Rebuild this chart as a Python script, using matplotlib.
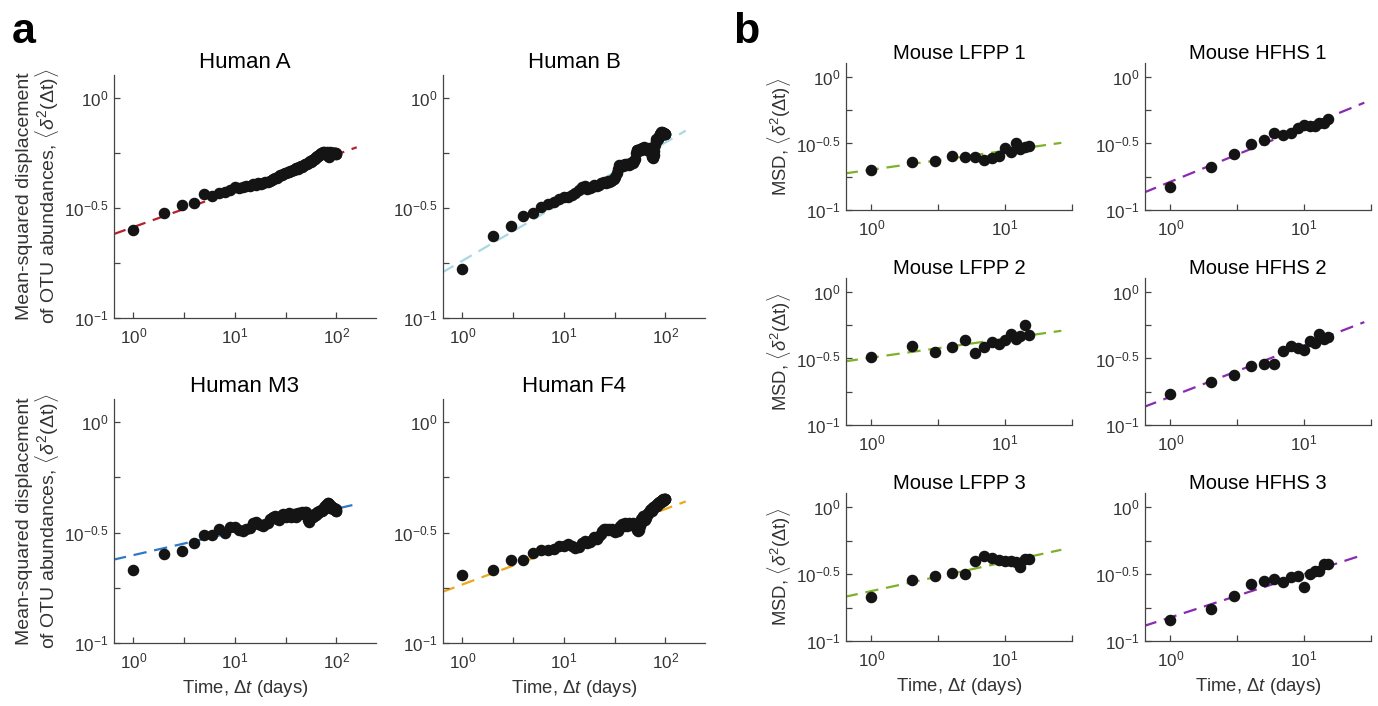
import matplotlib
matplotlib.use('Agg')
import matplotlib.pyplot as plt
import numpy as np

plt.rcParams['font.family'] = ['Liberation Sans', 'DejaVu Sans']
plt.rcParams['mathtext.fontset'] = 'custom'
plt.rcParams['mathtext.rm'] = 'Liberation Sans'
plt.rcParams['mathtext.it'] = 'Liberation Sans:italic'
plt.rcParams['mathtext.bf'] = 'Liberation Sans:bold'

# ---- data: MSD of OTU abundances vs time lag (days) ----
human_days = list(range(1, 101))
mouse_days = list(range(1, 16))

human_a = [0.251, 0.299, 0.327, 0.332, 0.365, 0.359, 0.370, 0.376, 0.382, 0.394,
           0.389, 0.396, 0.400, 0.398, 0.406, 0.403, 0.409, 0.406, 0.412, 0.414,
           0.417, 0.420, 0.425, 0.429, 0.435, 0.432, 0.442, 0.445, 0.449, 0.452,
           0.455, 0.457, 0.462, 0.459, 0.468, 0.466, 0.470, 0.473, 0.476, 0.479,
           0.481, 0.476, 0.484, 0.488, 0.490, 0.485, 0.492, 0.495, 0.501, 0.499,
           0.504, 0.507, 0.505, 0.513, 0.515, 0.511, 0.519, 0.522, 0.525, 0.527,
           0.531, 0.535, 0.540, 0.537, 0.543, 0.547, 0.552, 0.550, 0.556, 0.557,
           0.562, 0.560, 0.565, 0.566, 0.564, 0.568, 0.565, 0.562, 0.560, 0.565,
           0.566, 0.564, 0.547, 0.542, 0.552, 0.562, 0.566, 0.562, 0.565, 0.560,
           0.564, 0.561, 0.556, 0.562, 0.565, 0.560, 0.562, 0.558, 0.561, 0.557]

human_b = [0.167, 0.235, 0.262, 0.290, 0.300, 0.320, 0.329, 0.337, 0.348, 0.355,
           0.356, 0.361, 0.372, 0.382, 0.394, 0.398, 0.387, 0.391, 0.395, 0.401,
           0.398, 0.403, 0.409, 0.412, 0.417, 0.413, 0.419, 0.417, 0.421, 0.425,
           0.430, 0.436, 0.455, 0.478, 0.494, 0.490, 0.494, 0.492, 0.497, 0.499,
           0.496, 0.500, 0.503, 0.498, 0.502, 0.505, 0.510, 0.508, 0.515, 0.530,
           0.560, 0.578, 0.581, 0.575, 0.582, 0.586, 0.580, 0.589, 0.592, 0.594,
           0.592, 0.598, 0.590, 0.585, 0.588, 0.582, 0.578, 0.586, 0.590, 0.582,
           0.575, 0.562, 0.548, 0.540, 0.535, 0.540, 0.552, 0.575, 0.610, 0.640,
           0.655, 0.650, 0.642, 0.650, 0.660, 0.668, 0.675, 0.684, 0.690, 0.695,
           0.698, 0.700, 0.697, 0.694, 0.690, 0.692, 0.688, 0.686, 0.690, 0.688]

human_m3 = [0.215, 0.252, 0.261, 0.284, 0.310, 0.310, 0.328, 0.314, 0.334, 0.334,
            0.324, 0.320, 0.327, 0.333, 0.348, 0.353, 0.345, 0.343, 0.339, 0.346,
            0.351, 0.363, 0.367, 0.373, 0.377, 0.363, 0.359, 0.370, 0.380, 0.384,
            0.376, 0.372, 0.382, 0.387, 0.380, 0.372, 0.376, 0.382, 0.385, 0.372,
            0.380, 0.389, 0.387, 0.382, 0.387, 0.394, 0.389, 0.385, 0.391, 0.390,
            0.380, 0.367, 0.359, 0.352, 0.363, 0.373, 0.380, 0.377, 0.372, 0.377,
            0.382, 0.385, 0.380, 0.389, 0.394, 0.389, 0.396, 0.394, 0.398, 0.397,
            0.400, 0.396, 0.403, 0.400, 0.407, 0.412, 0.409, 0.417, 0.422, 0.418,
            0.425, 0.429, 0.432, 0.427, 0.426, 0.417, 0.407, 0.412, 0.419, 0.415,
            0.411, 0.407, 0.403, 0.406, 0.409, 0.403, 0.400, 0.404, 0.398, 0.397]

human_f4 = [0.204, 0.213, 0.238, 0.237, 0.256, 0.264, 0.264, 0.267, 0.274, 0.274,
            0.281, 0.275, 0.270, 0.272, 0.285, 0.291, 0.285, 0.288, 0.294, 0.301,
            0.296, 0.305, 0.313, 0.320, 0.328, 0.330, 0.325, 0.327, 0.324, 0.327,
            0.320, 0.318, 0.324, 0.322, 0.331, 0.339, 0.345, 0.343, 0.339, 0.348,
            0.343, 0.340, 0.345, 0.348, 0.345, 0.343, 0.347, 0.348, 0.345, 0.347,
            0.340, 0.333, 0.324, 0.320, 0.325, 0.339, 0.351, 0.363, 0.370, 0.377,
            0.372, 0.365, 0.359, 0.367, 0.376, 0.382, 0.389, 0.385, 0.394, 0.397,
            0.400, 0.403, 0.398, 0.406, 0.409, 0.412, 0.407, 0.415, 0.417, 0.418,
            0.422, 0.425, 0.419, 0.427, 0.429, 0.432, 0.435, 0.431, 0.437, 0.433,
            0.439, 0.442, 0.445, 0.441, 0.447, 0.445, 0.449, 0.447, 0.451, 0.448]

lfpp_1 = [0.200, 0.230, 0.233, 0.255, 0.251, 0.251, 0.237, 0.244, 0.255, 0.290,
          0.274, 0.320, 0.285, 0.295, 0.305]
hfhs_1 = [0.148, 0.211, 0.263, 0.316, 0.335, 0.376, 0.365, 0.382, 0.414, 0.439,
          0.427, 0.427, 0.452, 0.447, 0.486]
lfpp_2 = [0.324, 0.391, 0.354, 0.386, 0.432, 0.348, 0.386, 0.419, 0.409, 0.439,
          0.479, 0.444, 0.466, 0.560, 0.473]
hfhs_2 = [0.171, 0.209, 0.236, 0.276, 0.289, 0.289, 0.358, 0.391, 0.379, 0.369,
          0.427, 0.414, 0.479, 0.444, 0.457]
lfpp_3 = [0.214, 0.285, 0.307, 0.321, 0.316, 0.398, 0.434, 0.417, 0.403, 0.394,
          0.394, 0.386, 0.355, 0.409, 0.409]
hfhs_3 = [0.144, 0.172, 0.217, 0.268, 0.281, 0.288, 0.277, 0.301, 0.304, 0.253,
          0.318, 0.333, 0.333, 0.378, 0.373]

# power-law fits  MSD = prefactor * t^exponent
fit_prefactor = {'Human A': 0.259, 'Human B': 0.182, 'Human M3': 0.250, 'Human F4': 0.184,
                 'Mouse LFPP 1': 0.201, 'Mouse HFHS 1': 0.163,
                 'Mouse LFPP 2': 0.321, 'Mouse HFHS 2': 0.163,
                 'Mouse LFPP 3': 0.236, 'Mouse HFHS 3': 0.150}
fit_exponent = {'Human A': 0.165, 'Human B': 0.269, 'Human M3': 0.105, 'Human F4': 0.171,
                'Mouse LFPP 1': 0.142, 'Mouse HFHS 1': 0.410,
                'Mouse LFPP 2': 0.142, 'Mouse HFHS 2': 0.387,
                'Mouse LFPP 3': 0.217, 'Mouse HFHS 3': 0.324}

colors = {'Human A': '#b5202e', 'Human B': '#a9d8e2', 'Human M3': '#2f78c4',
          'Human F4': '#eaa81a', 'LFPP': '#7db12a', 'HFHS': '#8a2ab0'}

W, H = 1378, 706
fig = plt.figure(figsize=(W / 100, H / 100), dpi=100)

axis_gray = '#444444'
ylab_human = ('Mean-squared displacement\n'
              r'of OTU abundances, $\langle\delta^{2}(\mathit{\Delta}\mathrm{t})\rangle$')
ylab_mouse = r'MSD, $\langle\delta^{2}(\mathit{\Delta}\mathrm{t})\rangle$'
xlab = r'Time, $\mathit{\Delta t}$ (days)'


def px_rect(left, right, top, bottom):
    return [left / W, 1 - bottom / H, (right - left) / W, (bottom - top) / H]


def draw_panel(rect, name, days, msd, color, xmax_exp, line_end_exp,
               title_pad, title_size, ylabel=None, ylabel_size=14, ylabel_pad=4,
               xlabel=None):
    ax = fig.add_axes(rect)
    ax.set_xscale('log')
    ax.set_yscale('log')
    t = np.logspace(-0.2, line_end_exp, 60)
    ax.plot(t, fit_prefactor[name] * t ** fit_exponent[name], color=color,
            lw=1.6, dashes=(6, 3.5), zorder=1)
    ax.plot(days, msd, 'o', color='#141414', ms=7.3, mec='#141414', zorder=2,
            clip_on=False)
    ax.set_xlim(10 ** -0.19, 10 ** xmax_exp)
    ax.set_ylim(0.1, 10 ** 0.105)

    xt = [1, 10 ** 0.5, 10, 10 ** 1.5, 100, 10 ** 2.5]
    xl = [r'$10^{0}$', '', r'$10^{1}$', '', r'$10^{2}$', '']
    keep = [i for i, v in enumerate(xt) if v <= 10 ** xmax_exp * 1.001]
    ax.set_xticks([xt[i] for i in keep])
    ax.set_xticklabels([xl[i] for i in keep])
    ax.set_yticks([0.1, 10 ** -0.75, 10 ** -0.5, 10 ** -0.25, 1])
    ax.set_yticklabels([r'$10^{-1}$', '', r'$10^{-0.5}$', '', r'$10^{0}$'])
    ax.minorticks_off()

    for s in ['top', 'right']:
        ax.spines[s].set_visible(False)
    for s in ['left', 'bottom']:
        ax.spines[s].set_color(axis_gray)
        ax.spines[s].set_linewidth(0.9)
    ax.tick_params(direction='in', length=4, width=0.9, color=axis_gray,
                   labelcolor='#333333', labelsize=12.3)
    ax.tick_params(axis='x', pad=6)
    ax.tick_params(axis='y', pad=4)
    ax.set_title(name, fontsize=title_size, pad=title_pad)
    if ylabel:
        ax.set_ylabel(ylabel, fontsize=ylabel_size, color='#333333',
                      labelpad=ylabel_pad, linespacing=1.0)
    if xlabel:
        ax.set_xlabel(xlabel, fontsize=13.3, color='#333333', labelpad=5)
    return ax


# panel a: humans
draw_panel(px_rect(114, 376, 75, 318), 'Human A', human_days, human_a,
           colors['Human A'], 2.39, 2.2, 5, 16, ylabel=ylab_human, ylabel_pad=2)
draw_panel(px_rect(443, 705, 75, 318), 'Human B', human_days, human_b,
           colors['Human B'], 2.39, 2.2, 5, 16)
draw_panel(px_rect(114, 376, 399, 643), 'Human M3', human_days, human_m3,
           colors['Human M3'], 2.39, 2.2, 5, 16, ylabel=ylab_human, ylabel_pad=2,
           xlabel=xlab)
draw_panel(px_rect(443, 705, 399, 643), 'Human F4', human_days, human_f4,
           colors['Human F4'], 2.39, 2.2, 5, 16, xlabel=xlab)

# panel b: mice
mouse_rows = [(63, 210), (278, 425), (493, 641)]
lfpp = [lfpp_1, lfpp_2, lfpp_3]
hfhs = [hfhs_1, hfhs_2, hfhs_3]
for i, (top, bottom) in enumerate(mouse_rows):
    last = i == len(mouse_rows) - 1
    draw_panel(px_rect(846, 1072, top, bottom), 'Mouse LFPP %d' % (i + 1), mouse_days,
               lfpp[i], colors['LFPP'], 1.5, 1.42, -3, 14.5, ylabel=ylab_mouse,
               ylabel_size=13.3, ylabel_pad=2, xlabel=xlab if last else None)
    draw_panel(px_rect(1145, 1371, top, bottom), 'Mouse HFHS %d' % (i + 1), mouse_days,
               hfhs[i], colors['HFHS'], 1.5, 1.45, -3, 14.5,
               xlabel=xlab if last else None)

fig.text(12 / W, 1 - 43 / H, 'a', fontsize=31, fontweight='bold')
fig.text(733 / W, 1 - 43 / H, 'b', fontsize=31, fontweight='bold')

fig.savefig('out.png', dpi=100, facecolor='white')
